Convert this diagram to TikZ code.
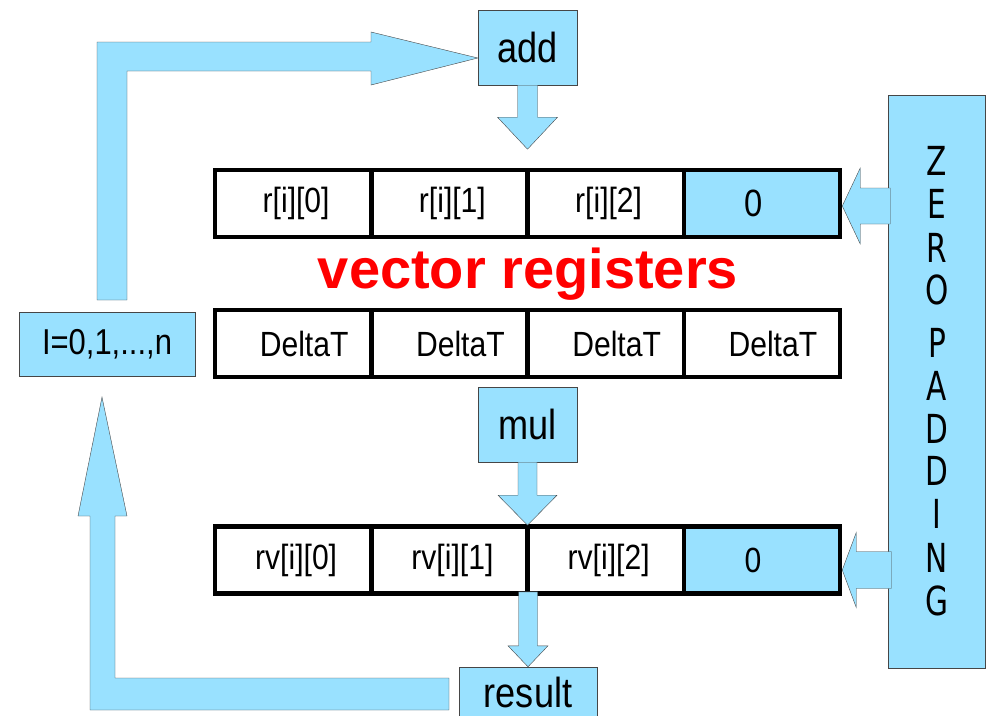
\documentclass[tikz,border=0pt]{standalone}
\usepackage{fontspec}
\setmainfont{Liberation Sans}
\newfontfamily\labelFont[FakeStretch=0.86]{Liberation Sans}
\newfontfamily\padFont[FakeStretch=0.74]{DejaVu Sans}
\usetikzlibrary{calc}
\definecolor{padBlue}{RGB}{153,225,255}
\definecolor{edgeGray}{RGB}{70,70,70}
\tikzstyle{diagram} = [x = 1pt, y = -1pt]
\tikzstyle{opBox} = [draw=edgeGray, fill=padBlue, thin, inner sep=0pt, font=\labelFont\fontsize{42}{44}\selectfont]
\tikzstyle{cellStyle} = [draw=black, line width=4.5pt, minimum width=156.25pt, minimum height=67pt, inner sep=0pt, font=\labelFont\fontsize{35}{38}\selectfont]
\tikzstyle{blockArrow} = [draw=edgeGray, fill=padBlue, thin, line join=miter]
\tikzstyle{padLetter} = [anchor=base, inner sep=0pt, font=\padFont\fontsize{40}{40}\selectfont]
\newcommand{\cellW}{156.25}
% block arrow pointing down: tip, half shaft, half head, head length, total length
\newcommand{\downBlock}[5]{\filldraw [blockArrow] (#1) -- ++(-#3,-#4) -- ++(#3-#2,0) -- ++(0,-#5+#4) -- ++(2*#2,0) -- ++(0,#5-#4) -- ++(#3-#2,0) -- cycle;}
% block arrow pointing left, same arguments
\newcommand{\leftBlock}[5]{\filldraw [blockArrow] (#1) -- ++(#4,-#3) -- ++(0,#3-#2) -- ++(#5-#4,0) -- ++(0,2*#2) -- ++(-#5+#4,0) -- ++(0,#3-#2) -- cycle;}

\begin{document}
\begin{tikzpicture}[diagram]
  \useasboundingbox (0,0) rectangle (990,715);

  % operation boxes
  \node[opBox, minimum width=99pt, minimum height=75pt] (add) at (527.5,47.5) {add};
  \node[opBox, minimum width=99pt, minimum height=75pt] (mul) at (527.5,424.5) {mul};
  \node[opBox, minimum width=138pt, minimum height=50pt] (result) at (528,692) {result};
  \node[opBox, minimum width=176pt, minimum height=64pt, font=\labelFont\fontsize{36}{38}\selectfont] (loopBox) at (107,344) {I=0,1,...,n};

  % register rows
  \foreach \txt [count=\col from 0] in {{r[i][0]},{r[i][1]},{r[i][2]}}
    \node[cellStyle] (r\col) at (293.125 + \col*\cellW, 203.5) {\hspace*{6pt}\txt};
  \node[cellStyle, fill=padBlue, font=\labelFont\fontsize{38}{40}\selectfont] (r3) at (761.875,203.5) {0\hspace*{16pt}};
  \foreach \col in {0,...,3}
    \node[cellStyle] (d\col) at (293.125 + \col*\cellW, 343.5) {\hspace*{22pt}DeltaT};
  \foreach \txt [count=\col from 0] in {{rv[i][0]},{rv[i][1]},{rv[i][2]}}
    \node[cellStyle] (v\col) at (293.125 + \col*\cellW, 560) {\hspace*{6pt}\txt};
  \node[cellStyle, fill=padBlue] (v3) at (761.875,560) {0\hspace*{18pt}};

  \node[anchor=base, text=red, font=\bfseries\fontsize{56}{60}\selectfont] (title) at (528,288) {vector registers};

  % zero padding column
  \node[draw=edgeGray, fill=padBlue, thin, minimum width=97pt, minimum height=573pt] (pad) at (936.5,381.5) {};
  \foreach \ch/\base [count=\k] in {Z/175,E/218,R/262,O/304,P/357,A/400,D/443,D/485,I/528,N/572,G/615}
    \node[padLetter] (pad\k) at (937,\base) {\ch};

  % data flow
  \downBlock{$(add.south)+(0,64)$}{10}{30}{32}{64}
  \downBlock{$(mul.south)+(0,63)$}{9.5}{29.5}{30}{63}
  \downBlock{result.north}{9.5}{20}{21}{75}
  \leftBlock{$(r3.east)+(0,2.5)$}{18}{38}{18}{48}
  \leftBlock{$(v3.east)+(0,10)$}{18.5}{37.5}{14}{49}

  % loop back
  \coordinate (loopTip) at ($(add.west)+(0,10.5)$);
  \filldraw [blockArrow] (97,300) -- (97,42) -- (371,42) -- (371,32) -- (loopTip) -- (371,85) -- (371,71) -- (127,71) -- (127,300) -- cycle;
  \coordinate (backTip) at ($(loopBox.south)+(-5,21)$);
  \filldraw [blockArrow] (449,678) -- (115,678) -- (115,516) -- (127,516) -- (backTip) -- (78,516) -- (90,516) -- (90,710) -- (449,710) -- cycle;
\end{tikzpicture}
\end{document}
